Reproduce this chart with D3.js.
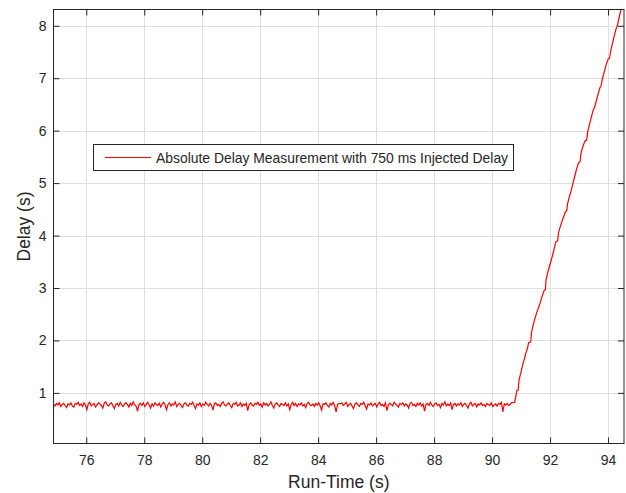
<!DOCTYPE html>
<html><head><meta charset="utf-8">
<script src="https://cdn.jsdelivr.net/npm/d3@7"></script>
<style>body{margin:0;background:#fff;}svg{display:block;font-family:"Liberation Sans",Arial,Helvetica,sans-serif;}</style>
</head><body>
<svg id="chart" width="626" height="493"></svg>
<script>
// ---- data ----
const flatStart = 74.87;      // run-time of first flat sample (s)
const flatStep = 0.05;        // sampling interval (s)
const flatDelay = [
0.78,0.75,0.80,0.77,0.81,0.74,0.78,0.80,0.76,0.72,0.79,0.77,0.81,0.75,0.73,0.80,0.78,0.82,0.76,0.79,
0.74,0.81,0.77,0.68,0.79,0.82,0.75,0.78,0.80,0.73,0.77,0.81,0.79,0.76,0.71,0.80,0.83,0.77,0.75,0.79,
0.81,0.76,0.70,0.78,0.80,0.75,0.82,0.77,0.74,0.79,0.81,0.78,0.73,0.80,0.76,0.83,0.77,0.75,0.65,0.78,
0.80,0.76,0.81,0.74,0.78,0.82,0.77,0.71,0.79,0.75,0.81,0.78,0.76,0.80,0.73,0.79,0.82,0.77,0.68,0.78,
0.81,0.75,0.79,0.77,0.83,0.74,0.78,0.80,0.76,0.72,0.79,0.81,0.77,0.75,0.80,0.78,0.82,0.76,0.70,0.79,
0.77,0.81,0.74,0.79,0.76,0.82,0.78,0.75,0.80,0.77,0.67,0.79,0.81,0.76,0.78,0.74,0.80,0.83,0.77,0.75,
0.79,0.81,0.76,0.72,0.80,0.78,0.82,0.75,0.77,0.81,0.74,0.79,0.76,0.80,0.66,0.78,0.81,0.77,0.75,0.80,
0.78,0.82,0.76,0.79,0.73,0.81,0.77,0.80,0.75,0.78,0.83,0.76,0.71,0.79,0.81,0.77,0.74,0.80,0.78,0.76,
0.81,0.75,0.79,0.68,0.78,0.82,0.76,0.80,0.74,0.79,0.77,0.81,0.75,0.78,0.72,0.80,0.82,0.77,0.76,0.79,
0.74,0.80,0.77,0.81,0.75,0.67,0.79,0.78,0.81,0.76,0.73,0.80,0.77,0.82,0.75,0.64,0.78,0.80,0.79,0.81,
0.76,0.79,0.82,0.74,0.78,0.80,0.75,0.70,0.79,0.81,0.77,0.74,0.80,0.78,0.82,0.76,0.69,0.79,0.77,0.81,
0.75,0.78,0.80,0.73,0.79,0.82,0.76,0.78,0.74,0.81,0.66,0.77,0.80,0.78,0.75,0.82,0.79,0.76,0.73,0.80,
0.78,0.81,0.75,0.79,0.77,0.71,0.80,0.82,0.76,0.78,0.74,0.80,0.77,0.81,0.75,0.79,0.65,0.78,0.80,0.76,
0.82,0.77,0.74,0.79,0.81,0.76,0.78,0.72,0.80,0.77,0.83,0.75,0.79,0.76,0.81,0.68,0.78,0.80,0.75,0.79,
0.77,0.81,0.74,0.78,0.80,0.76,0.71,0.79,0.82,0.75,0.78,0.80,0.73,0.79,0.77,0.81,0.76,0.78,0.74,0.80,
0.78,0.76,0.81,0.74,0.77,0.79,0.75,0.80,0.78,0.82,0.64,0.79,0.77,0.80,0.76,0.78,0.81
];
const rampTime = [90.78,90.84,90.86,90.90,90.93,91.00,91.06,91.10,91.16,91.22,91.26,91.33,91.36,91.42,91.48,91.55,91.60,91.66,91.73,91.80,91.84,91.86,91.92,91.98,92.05,92.12,92.20,92.26,92.29,92.34,92.40,92.46,92.53,92.58,92.60,92.67,92.74,92.80,92.86,92.92,92.98,93.04,93.06,93.12,93.20,93.26,93.30,93.36,93.42,93.48,93.54,93.60,93.66,93.72,93.76,93.80,93.86,93.93,94.00,94.05,94.10,94.16,94.22,94.28,94.33,94.38,94.44,94.50];
const rampDelay = [0.82,1.00,1.05,1.05,1.25,1.40,1.55,1.62,1.75,1.85,1.96,1.97,2.15,2.30,2.42,2.55,2.62,2.72,2.85,2.96,2.97,3.15,3.30,3.42,3.55,3.70,3.88,3.90,4.05,4.15,4.25,4.35,4.45,4.48,4.60,4.75,4.88,5.02,5.15,5.28,5.38,5.42,5.55,5.68,5.80,5.82,5.98,6.12,6.25,6.38,6.45,6.58,6.70,6.82,6.85,6.98,7.10,7.25,7.36,7.38,7.55,7.68,7.82,7.95,8.02,8.15,8.30,8.45];
const xTicks = [76,78,80,82,84,86,88,90,92,94];
const yTicks = [1,2,3,4,5,6,7,8];
const xDomain = [74.87, 94.55];
const yDomain = [0.035, 8.31];
const legendLabel = "Absolute Delay Measurement with 750 ms Injected Delay";
const xLabel = "Run-Time (s)";
const yLabel = "Delay (s)";

// ---- build series ----
const series = flatDelay.map((d,i)=>({t: flatStart + i*flatStep, d}))
  .concat(rampTime.map((t,i)=>({t, d: rampDelay[i]})));

// ---- layout ----
const L = 53.5, R = 624, T = 9.5, B = 443.5;
const svg = d3.select("#chart");
const x = d3.scaleLinear().domain(xDomain).range([L, R]);
const y = d3.scaleLinear().domain(yDomain).range([B, T]);
const axisCol = "#262626", gridCol = "#dfdfdf", tickLen = 6;

// grid
svg.append("g").selectAll("line").data(xTicks).join("line")
  .attr("x1", d=>Math.round(x(d))+0.5).attr("x2", d=>Math.round(x(d))+0.5)
  .attr("y1", T).attr("y2", B).attr("stroke", gridCol).attr("stroke-width",1);
svg.append("g").selectAll("line").data(yTicks).join("line")
  .attr("y1", d=>Math.round(y(d))+0.5).attr("y2", d=>Math.round(y(d))+0.5)
  .attr("x1", L).attr("x2", R).attr("stroke", gridCol).attr("stroke-width",1);

// line
svg.append("clipPath").attr("id","clip").append("rect")
  .attr("x", L).attr("y", T).attr("width", R-L).attr("height", B-T);
svg.append("path").datum(series)
  .attr("clip-path","url(#clip)")
  .attr("fill","none").attr("stroke","#ff0000").attr("stroke-width",1.2)
  .attr("d", d3.line().x(d=>x(d.t)).y(d=>y(d.d)));

// axes via d3
const fs = 14;
const gx = svg.append("g").attr("transform",`translate(0,${B})`)
  .call(d3.axisBottom(x).tickValues(xTicks).tickSize(-tickLen).tickPadding(12).tickFormat(d3.format("d")));
const gy = svg.append("g").attr("transform",`translate(${L},0)`)
  .call(d3.axisLeft(y).tickValues(yTicks).tickSize(-tickLen).tickPadding(7).tickFormat(d3.format("d")));
const gxt = svg.append("g").attr("transform",`translate(0,${T})`)
  .call(d3.axisTop(x).tickValues(xTicks).tickSize(-tickLen).tickFormat(""));
const gyr = svg.append("g").attr("transform",`translate(${R},0)`)
  .call(d3.axisRight(y).tickValues(yTicks).tickSize(-tickLen).tickFormat(""));
[gx,gy,gxt,gyr].forEach(g=>{
  g.select(".domain").remove();
  g.selectAll("line").attr("stroke", axisCol);
  g.selectAll("text").attr("fill", axisCol).attr("font-size", fs)
   .attr("font-family",'"Liberation Sans",Arial,sans-serif');
});
// frame
svg.append("rect").attr("x",L).attr("y",T).attr("width",R-L).attr("height",B-T)
  .attr("fill","none").attr("stroke",axisCol).attr("stroke-width",1);

// axis labels
svg.append("text").attr("x",(L+R)/2).attr("y",488).attr("text-anchor","middle")
  .attr("fill",axisCol).attr("font-size",17.5).text(xLabel);
svg.append("text").attr("transform",`translate(30,${(T+B)/2}) rotate(-90)`)
  .attr("text-anchor","middle").attr("fill",axisCol).attr("font-size",17.5).text(yLabel);

// legend
const lg = svg.append("g");
lg.append("rect").attr("x",93.5).attr("y",144.5).attr("width",420).attr("height",26)
  .attr("fill","#fff").attr("stroke",axisCol).attr("stroke-width",1);
lg.append("line").attr("x1",105).attr("x2",151).attr("y1",157.5).attr("y2",157.5)
  .attr("stroke","#ff0000").attr("stroke-width",1.1);
lg.append("text").attr("x",156).attr("y",162.5).attr("fill",axisCol).attr("font-size",13.9)
  .text(legendLabel);
</script>
</body></html>
